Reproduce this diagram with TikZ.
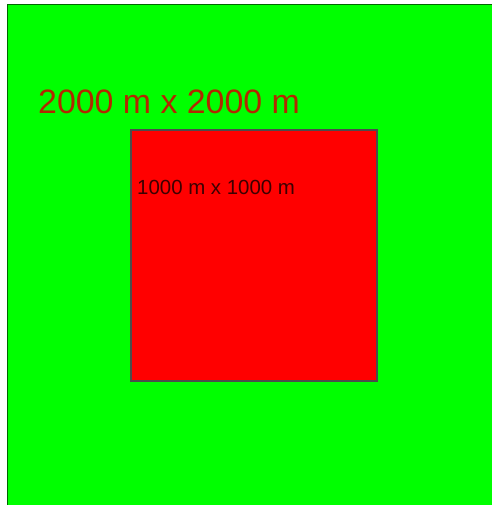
\documentclass[tikz,border=0pt]{standalone}
\usepackage{fontspec}
\setmainfont{Liberation Sans}
\definecolor{fieldgreen}{RGB}{0,255,0}
\definecolor{boxred}{RGB}{255,0,0}
\definecolor{bigtext}{RGB}{178,40,0}
\definecolor{smalltext}{RGB}{60,0,0}
\begin{document}
\begin{tikzpicture}[x=1bp,y=-1bp,
  area/.style={draw=black!70, line width=1.2bp},
  label/.style={inner sep=0pt, anchor=base west}]
\useasboundingbox (0,0) rectangle (492,505);
\fill[white] (-5,-5) rectangle (497,510);
\fill[fieldgreen] (7.5,4.5) rectangle (520,530);
\draw[black!60!green, line width=1.2bp] (520,4.5) -- (7.5,4.5) -- (7.5,530);
\node[label, text=bigtext, font=\fontsize{34}{40}\selectfont] (big) at (38,114) {2000 m x 2000 m};
\draw[area, fill=boxred] (131,130) rectangle (377,381);
\node[label, text=smalltext, font=\fontsize{20.5}{24}\selectfont] (small) at (137,195) {1000 m x 1000 m};
\end{tikzpicture}
\end{document}
